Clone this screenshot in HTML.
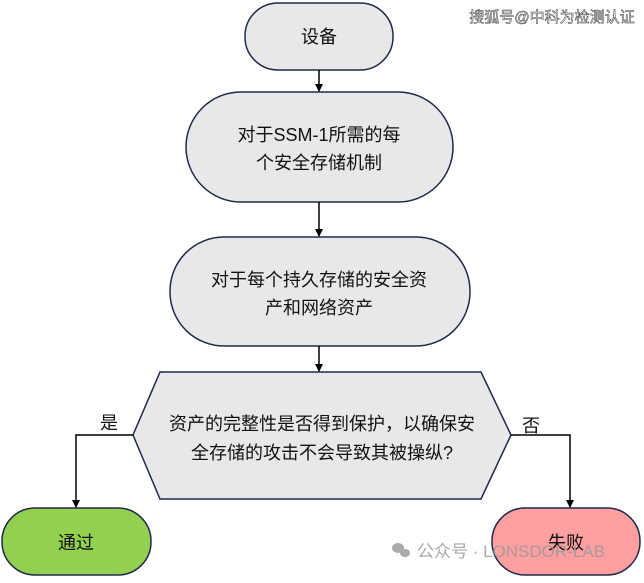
<!DOCTYPE html><html><head><meta charset="utf-8"><style>body{margin:0;background:#fff}</style></head><body>
<svg width="644" height="578" xmlns="http://www.w3.org/2000/svg" style="font-family:'Liberation Sans','Noto Sans CJK SC',sans-serif">
<defs><marker id="a" markerWidth="8" markerHeight="8" refX="7" refY="4" orient="auto" markerUnits="userSpaceOnUse"><path d="M0,0L8,4L0,8z" fill="#000"/></marker></defs>
<g stroke="#1f2a4a" stroke-width="1.5" fill="#e8e8e8">
<rect x="245" y="3" width="148" height="67" rx="33"/>
<rect x="186" y="92" width="267" height="110" rx="55"/>
<rect x="170" y="237" width="300" height="109" rx="54"/>
<polygon points="160,372 481,372 511,435 481,499 160,499 133,435"/>
<rect x="2" y="508" width="149" height="67" rx="33" fill="#92d050"/>
<rect x="492" y="508" width="148" height="67" rx="33" fill="#ff9f9f"/>
</g>
<g stroke="#000" stroke-width="1.5" fill="none" marker-end="url(#a)">
<line x1="319" y1="70" x2="319" y2="91"/>
<line x1="319" y1="202" x2="319" y2="236"/>
<line x1="319" y1="346" x2="319" y2="371"/>
<polyline points="133,435 76,435 76,507"/>
<polyline points="511,435 570,435 570,507"/>
</g>
<g font-size="18" fill="#111" text-anchor="middle">
<text x="319" y="43">设备</text>
<text x="319" y="141">对于SSM-1所需的每</text>
<text x="319" y="169">个安全存储机制</text>
<text x="319" y="286">对于每个持久存储的安全资</text>
<text x="319" y="314">产和网络资产</text>
<text x="322" y="430">资产的完整性是否得到保护，以确保安</text>
<text x="322" y="459">全存储的攻击不会导致其被操纵?</text>
<text x="109" y="429">是</text>
<text x="531" y="432">否</text>
<text x="76" y="549">通过</text>
<text x="566" y="549">失败</text>
</g>
<text x="552" y="22" font-size="15" fill="#fff" stroke="#333" stroke-width="0.5" text-anchor="middle">搜狐号@中科为检测认证</text>
<g fill="#aaa"><ellipse cx="398" cy="548" rx="6" ry="5"/><ellipse cx="405" cy="553" rx="5" ry="4"/></g>
<text x="417" y="557" font-size="17" fill="#999" opacity="0.85">公众号 · LONSDOR-LAB</text>
</svg></body></html>
